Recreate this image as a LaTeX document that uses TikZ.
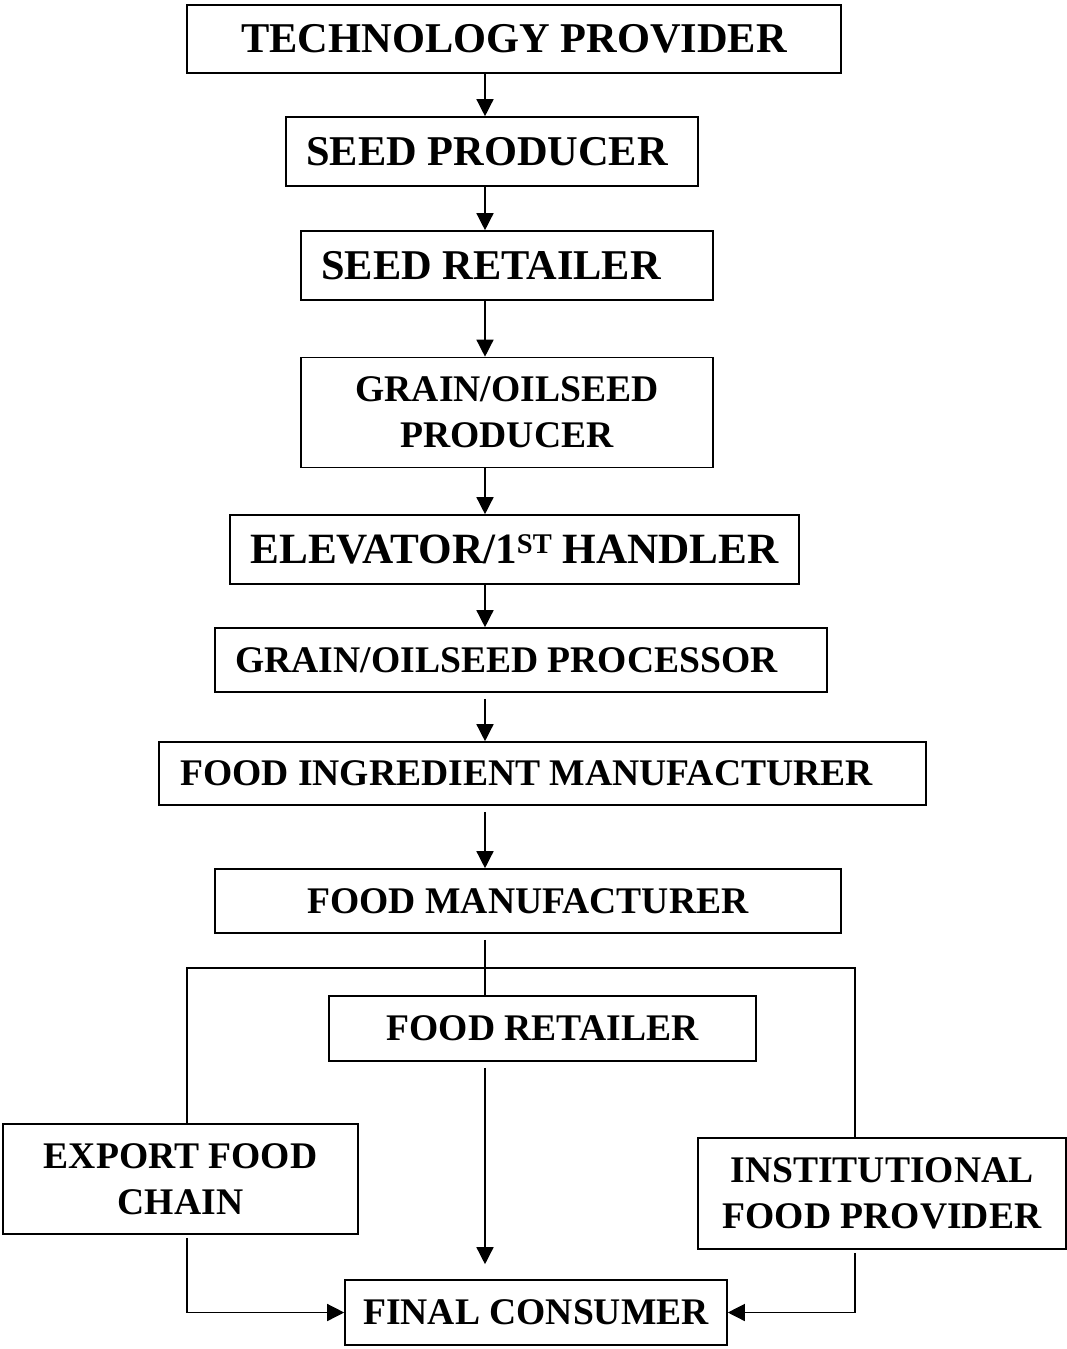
\documentclass[tikz,border=0pt]{standalone}
\usepackage{fontspec}
\setmainfont{Liberation Serif}
\usetikzlibrary{arrows.meta}
\newcommand{\bigtxt}{\fontsize{42.4}{47}\selectfont\bfseries}
\newcommand{\eltxt}{\fontsize{43.2}{47}\selectfont\bfseries}
\newcommand{\smalltxt}{\fontsize{37.6}{46}\selectfont\bfseries}
\newcommand{\supST}{\raisebox{9.5pt}{\fontsize{28.5}{29}\selectfont ST}}
\begin{document}
\begin{tikzpicture}[x=1pt,y=-1pt,
  box/.style={draw, line width=1.6pt, inner sep=0pt, align=center},
  big/.style={box, font=\bigtxt},
  small/.style={box, font=\smalltxt},
  conn/.style={line width=1.4pt},
  arr/.style={conn, -{Triangle[length=17pt,width=17pt]}}]
\useasboundingbox (0,0) rectangle (1067,1349);
\coordinate (spine) at (485,0);
\coordinate (jl) at (187,968);
\coordinate (jr) at (855,968);
\coordinate (jc) at (485,968);

\node[big, minimum width=654, minimum height=68] (tp) at (514,39) {TECHNOLOGY PROVIDER};
\node[big, minimum width=412, minimum height=69] (sp) at (492,151.5) {SEED PRODUCER\hspace{10pt}};
\node[big, minimum width=412, minimum height=69] (sr) at (507,265.5) {SEED RETAILER\hspace{32pt}};
\node[small, minimum width=412, minimum height=110] (gop) at (507,412.5) {GRAIN/OILSEED\\PRODUCER};
\node[box, font=\eltxt, minimum width=569, minimum height=69] (el) at (514.5,549.5) {ELEVATOR/1\supST{} HANDLER};
\node[small, minimum width=612, minimum height=64] (proc) at (521,660) {GRAIN/OILSEED PROCESSOR\hspace{29pt}};
\node[small, minimum width=767, minimum height=63] (fim) at (542.5,773.5) {FOOD INGREDIENT MANUFACTURER\hspace{32pt}};
\node[small, minimum width=626, minimum height=64] (fm) at (528,901) {FOOD MANUFACTURER};
\node[small, minimum width=427, minimum height=65] (fr) at (542.5,1028.5) {FOOD RETAILER};
\node[small, minimum width=355, minimum height=110] (ex) at (180.5,1179) {EXPORT FOOD\\CHAIN};
\node[small, minimum width=368, minimum height=111] (inst) at (882,1193.5) {INSTITUTIONAL\\FOOD PROVIDER};
\node[small, minimum width=382, minimum height=65] (fc) at (536,1312.5) {FINAL CONSUMER};

\draw[arr] (tp.south -| spine) -- (sp.north -| spine);
\draw[arr] (sp.south -| spine) -- (sr.north -| spine);
\draw[arr] (sr.south -| spine) -- (gop.north -| spine);
\draw[arr] (gop.south -| spine) -- (el.north -| spine);
\draw[arr] (el.south -| spine) -- (proc.north -| spine);
\draw[arr, shorten <=6pt] (proc.south -| spine) -- (fim.north -| spine);
\draw[arr, shorten <=6pt] (fim.south -| spine) -- (fm.north -| spine);
\draw[conn, shorten <=6pt] (fm.south -| spine) -- (fr.north -| spine);
\draw[conn] (ex.north -| jl) -- (jl) -- (jr) -- (inst.north -| jr);
\draw[arr, shorten <=6pt, shorten >=15pt] (fr.south -| spine) -- (fc.north -| spine);
\draw[arr, shorten <=3pt] (ex.south -| jl) |- (fc.west);
\draw[arr, shorten <=3pt] (inst.south -| jr) |- (fc.east);
\end{tikzpicture}
\end{document}
